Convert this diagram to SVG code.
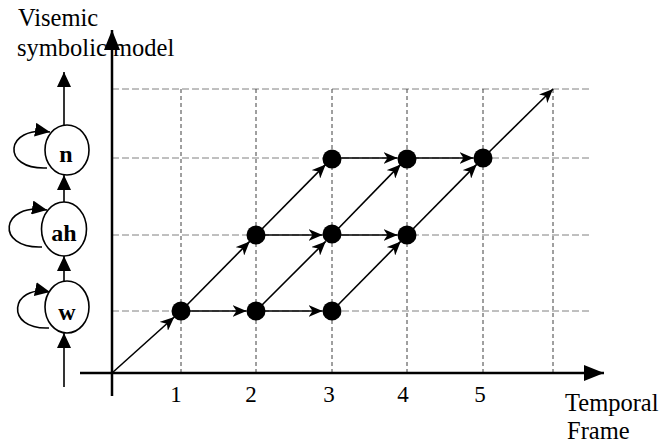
<svg xmlns="http://www.w3.org/2000/svg" width="665" height="446" viewBox="0 0 665 446">
<style>
text{font-family:"Liberation Serif","Times New Roman",serif;fill:#000}
.lbl{font-size:24.5px}
.num{font-size:23px;text-anchor:middle}
.nl{font-size:24px;font-weight:bold;text-anchor:middle}
.gh{stroke:#808080;stroke-width:1;stroke-dasharray:7,3;fill:none}
.gv{stroke:#404040;stroke-width:1;stroke-dasharray:4,3;fill:none}
.ax{stroke:#000;stroke-width:2.5;fill:none}
.cn{stroke:#000;stroke-width:1.6;fill:none;marker-end:url(#barb)}
.ch{stroke:#000;stroke-width:1.6;fill:none;marker-end:url(#tri)}
.nd{fill:#fff;stroke:#000;stroke-width:1.6}
.dot{fill:#000}
</style>
<defs>
<marker id="barb" markerUnits="userSpaceOnUse" markerWidth="16" markerHeight="12" refX="14" refY="6" orient="auto">
<path d="M0,0 L14,6 L0,12 L4,6 z" fill="#000"/>
</marker>
<marker id="tri" markerUnits="userSpaceOnUse" markerWidth="16" markerHeight="14" refX="15" refY="7" orient="auto">
<path d="M0,0 L15,7 L0,14 z" fill="#000"/>
</marker>
<marker id="axh" markerUnits="userSpaceOnUse" markerWidth="22" markerHeight="16" refX="20" refY="8" orient="auto">
<path d="M0,0 L20,8 L0,16 z" fill="#000"/>
</marker>
</defs>

<g id="grid">
<line class="gh" x1="112" y1="89" x2="591" y2="89"/>
<line class="gh" x1="112" y1="158" x2="591" y2="158"/>
<line class="gh" x1="112" y1="235" x2="591" y2="235"/>
<line class="gh" x1="112" y1="311" x2="591" y2="311"/>
<line class="gv" x1="181" y1="89" x2="181" y2="373"/>
<line class="gv" x1="256" y1="89" x2="256" y2="373"/>
<line class="gv" x1="332" y1="89" x2="332" y2="373"/>
<line class="gv" x1="407" y1="89" x2="407" y2="373"/>
<line class="gv" x1="483" y1="89" x2="483" y2="373"/>
<line class="gv" x1="553" y1="89" x2="553" y2="373"/>
</g>

<g id="axes">
<line class="ax" x1="112" y1="396" x2="112" y2="30" marker-end="url(#axh)"/>
<line class="ax" x1="80" y1="373" x2="604" y2="373" marker-end="url(#axh)"/>
</g>

<g id="connectors">
<line class="cn" x1="112" y1="373" x2="174.3" y2="317"/>
<line class="cn" x1="181" y1="311" x2="246.5" y2="311"/>
<line class="cn" x1="256" y1="311" x2="322.5" y2="311"/>
<line class="cn" x1="256" y1="235" x2="322.5" y2="235"/>
<line class="cn" x1="332" y1="235" x2="397.5" y2="235"/>
<line class="cn" x1="332" y1="158" x2="397.5" y2="158"/>
<line class="cn" x1="407" y1="158" x2="473.5" y2="158"/>
<line class="cn" x1="181" y1="311" x2="249.7" y2="241.4"/>
<line class="cn" x1="256" y1="235" x2="325.7" y2="164.4"/>
<line class="cn" x1="256" y1="311" x2="325.7" y2="241.4"/>
<line class="cn" x1="332" y1="235" x2="400.7" y2="164.4"/>
<line class="cn" x1="332" y1="311" x2="400.7" y2="241.4"/>
<line class="cn" x1="407" y1="235" x2="476.7" y2="164.4"/>
<line class="cn" x1="483" y1="158" x2="553" y2="89"/>
</g>

<g id="states">
<circle class="dot" cx="181" cy="311" r="9.5"/>
<circle class="dot" cx="256" cy="311" r="9.5"/>
<circle class="dot" cx="332" cy="311" r="9.5"/>
<circle class="dot" cx="256" cy="235" r="9.5"/>
<circle class="dot" cx="332" cy="234" r="9.5"/>
<circle class="dot" cx="407" cy="235" r="9.5"/>
<circle class="dot" cx="332" cy="159" r="9.5"/>
<circle class="dot" cx="407" cy="159" r="9.5"/>
<circle class="dot" cx="483" cy="158" r="9.5"/>
</g>

<g id="chain-connectors">
<line class="ch" x1="64" y1="125" x2="64" y2="72"/>
<line class="ch" x1="64" y1="203" x2="64" y2="175"/>
<line class="ch" x1="64" y1="281" x2="64" y2="256"/>
<line class="ch" x1="64" y1="387" x2="64" y2="333"/>
<path class="ch" d="M47,168 C0,170 5,125 50,132"/>
<path class="ch" d="M42,247 C-5,249 0,202 47,210"/>
<path class="ch" d="M49,328 C4,330 10,284 50,292"/>
</g>

<g id="node-n">
<ellipse class="nd" cx="67" cy="150" rx="22" ry="25"/>
<text class="nl" x="66" y="162">n</text>
</g>
<g id="node-ah">
<ellipse class="nd" cx="64" cy="229" rx="22.5" ry="27"/>
<text class="nl" x="64" y="241">ah</text>
</g>
<g id="node-w">
<ellipse class="nd" cx="67" cy="307" rx="22" ry="26"/>
<text class="nl" x="67" y="320">w</text>
</g>

<g id="labels">
<text class="lbl" x="18" y="26">Visemic</text>
<text class="lbl" x="17" y="56">symbolic model</text>
<text class="lbl" x="565" y="411">Temporal</text>
<text class="lbl" x="567" y="439">Frame</text>
<text class="num" x="176" y="402">1</text>
<text class="num" x="251" y="402">2</text>
<text class="num" x="329" y="402">3</text>
<text class="num" x="403" y="402">4</text>
<text class="num" x="480" y="402">5</text>
</g>
</svg>
